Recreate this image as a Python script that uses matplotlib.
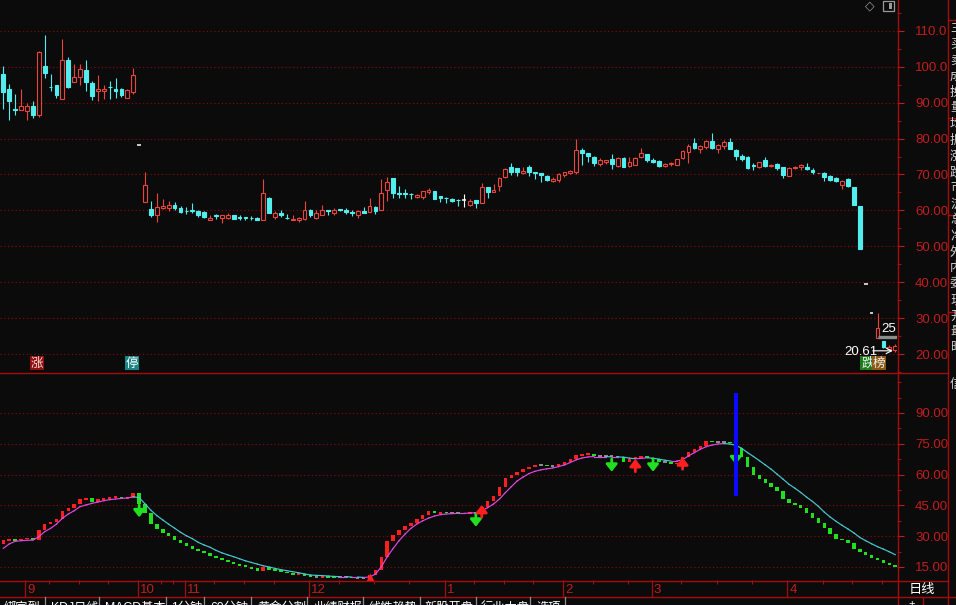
import numpy as np
import matplotlib.pyplot as plt
from matplotlib.patches import Rectangle
from matplotlib.lines import Line2D

plt.rcParams['font.family'] = ['Liberation Sans', 'Noto Sans CJK SC', 'DejaVu Sans']

# ---- daily candles ----
opens = [98.1, 93.7, 88.2, 88.0, 87.8, 89.2, 86.5, 100.3, 94.5, 95.0,
         91.1, 102.0, 95.7, 97.1, 99.2, 95.5, 93.2, 93.2, 94.5, 93.9,
         93.9, 91.2, 92.9, 78.1, 62.4, 60.4, 58.6, 60.7, 60.6, 61.6,
         60.7, 59.95, 60.1, 59.7, 59.5, 57.4, 58.6, 57.9, 57.9, 58.6,
         58.1, 58.1, 57.9, 57.9, 57.2, 63.5, 58.1, 59.3, 57.9, 57.2,
         57.2, 57.5, 60.2, 57.9, 58.8, 60.1, 59.2, 60.4, 60.2, 59.5,
         58.6, 59.7, 59.5, 60.9, 60.2, 65.6, 69.0, 64.8, 64.8, 64.6,
         63.7, 63.8, 65.0, 65.3, 63.9, 63.5, 63.2, 62.9, 62.9, 61.5,
         62.9, 62.1, 66.4, 65.2, 66.9, 69.2, 72.0, 71.7, 70.4, 72.0,
         70.6, 70.4, 69.6, 68.2, 68.5, 69.9, 70.4, 70.6, 76.8, 75.9,
         75.0, 72.9, 73.6, 74.3, 72.4, 74.7, 72.4, 72.7, 75.0, 75.7,
         74.1, 73.8, 72.4, 73.0, 72.7, 74.7, 76.3, 78.9, 77.2, 77.7,
         79.3, 77.0, 77.8, 79.1, 76.8, 75.2, 75.0, 72.6, 72.0, 74.1,
         72.4, 72.9, 72.0, 69.6, 71.8, 72.2, 72.2, 71.3, 70.4, 70.4,
         69.6, 69.0, 67.1, 68.7, 66.4, 61.3, 39.4, 31.3, 24.6, 23.7,
         21.4, 21.2]
highs = [100.1, 95.3, 92.3, 93.7, 89.8, 90.6, 104.3, 108.9, 98.1, 95.0,
         107.7, 102.7, 100.9, 100.9, 102.0, 96.1, 97.8, 95.0, 96.0, 97.0,
         94.2, 93.7, 99.7, 78.1, 70.6, 62.7, 64.8, 63.2, 62.5, 62.3,
         61.2, 60.9, 62.1, 60.1, 59.8, 58.6, 59.0, 58.8, 59.3, 58.8,
         58.6, 58.3, 58.4, 58.1, 68.7, 63.8, 59.8, 60.0, 59.0, 58.6,
         58.1, 62.5, 60.4, 60.0, 61.5, 60.2, 60.7, 60.4, 60.7, 60.2,
         60.1, 60.9, 63.5, 61.2, 68.7, 69.2, 69.0, 66.9, 66.0, 64.8,
         64.6, 65.5, 66.2, 65.5, 64.1, 63.7, 63.5, 63.2, 64.6, 63.2,
         62.9, 67.6, 66.6, 67.3, 69.2, 71.7, 73.3, 71.7, 72.2, 72.6,
         70.7, 70.4, 69.8, 69.2, 70.4, 70.7, 71.3, 79.8, 77.5, 75.9,
         75.2, 74.5, 74.1, 75.7, 75.0, 75.0, 74.9, 74.9, 77.5, 75.8,
         74.5, 74.1, 73.1, 73.5, 74.3, 76.8, 78.4, 80.1, 78.1, 79.5,
         81.5, 78.4, 79.5, 80.3, 77.0, 75.8, 75.2, 73.3, 73.5, 75.0,
         72.9, 73.1, 72.2, 72.0, 72.4, 72.9, 73.1, 71.8, 70.5, 70.7,
         69.9, 69.4, 68.4, 69.0, 66.4, 61.3, 39.4, 31.3, 31.3, 23.7,
         22.6, 22.8]
lows = [88.1, 85.2, 86.7, 87.9, 85.2, 85.8, 86.1, 96.9, 93.2, 91.2,
        90.9, 94.1, 95.7, 95.0, 93.2, 90.7, 90.4, 91.1, 91.1, 91.2,
        91.6, 91.2, 92.5, 78.1, 62.4, 58.1, 56.7, 60.4, 59.7, 60.0,
        59.2, 59.0, 59.2, 58.3, 57.9, 57.4, 57.5, 56.5, 57.5, 57.5,
        57.2, 57.2, 57.4, 57.2, 57.2, 59.3, 57.5, 58.1, 57.6, 57.2,
        56.7, 57.2, 58.1, 57.5, 58.8, 58.6, 58.8, 59.7, 59.0, 58.4,
        57.9, 59.2, 59.5, 59.0, 60.2, 62.7, 63.5, 63.5, 63.5, 63.2,
        63.5, 63.2, 64.6, 63.2, 62.4, 62.1, 62.3, 61.3, 60.9, 61.2,
        60.7, 62.1, 63.5, 65.2, 65.5, 69.0, 69.8, 69.5, 70.1, 69.6,
        68.7, 68.0, 68.3, 68.0, 67.8, 69.2, 70.1, 70.1, 72.7, 73.5,
        72.4, 72.4, 72.9, 71.5, 72.0, 72.1, 72.2, 72.7, 74.7, 73.4,
        73.1, 72.0, 72.1, 72.4, 72.6, 74.3, 73.2, 77.0, 75.9, 77.2,
        77.0, 76.1, 77.2, 77.2, 74.1, 73.8, 71.5, 71.3, 71.8, 72.1,
        72.1, 71.3, 69.0, 69.5, 71.5, 71.2, 71.2, 70.1, 70.3, 68.3,
        68.1, 67.8, 66.0, 66.4, 61.5, 49.3, 39.4, 31.3, 24.6, 21.8,
        21.2, 20.6]
closes = [92.9, 90.5, 88.0, 89.0, 89.2, 86.7, 104.1, 98.4, 94.3, 92.0,
          102.0, 94.4, 97.2, 99.5, 95.7, 91.8, 93.9, 93.9, 94.3, 93.2,
          92.0, 93.4, 97.8, 78.1, 67.1, 58.8, 60.9, 61.3, 61.5, 60.6,
          59.5, 59.8, 59.7, 58.6, 58.3, 57.9, 58.5, 58.7, 58.8, 57.6,
          58.0, 58.0, 57.8, 57.4, 64.8, 59.3, 59.2, 58.6, 57.8, 57.6,
          57.8, 60.1, 58.6, 59.2, 60.2, 59.8, 60.2, 60.1, 59.5, 59.4,
          59.8, 59.2, 61.2, 59.8, 64.8, 67.8, 64.8, 64.6, 64.6, 64.5,
          64.3, 65.3, 65.8, 63.2, 63.5, 63.4, 62.6, 62.8, 62.9, 62.7,
          62.1, 66.4, 65.0, 65.8, 69.0, 71.5, 70.7, 70.6, 71.0, 70.7,
          70.3, 69.9, 68.5, 68.7, 70.1, 70.6, 71.0, 76.8, 76.1, 75.2,
          73.2, 74.1, 74.1, 72.9, 74.5, 72.1, 73.4, 74.7, 76.1, 74.1,
          73.6, 72.4, 72.9, 73.1, 74.3, 76.5, 78.0, 77.5, 77.9, 79.3,
          77.3, 78.1, 79.1, 77.2, 75.2, 74.3, 71.8, 72.5, 73.4, 72.4,
          72.7, 71.8, 69.8, 71.8, 72.1, 72.7, 71.5, 70.6, 70.5, 69.4,
          68.4, 68.1, 68.3, 66.7, 61.5, 49.3, 39.4, 31.3, 27.2, 22.1,
          22.1, 22.3]

price_ticks = [20, 30, 40, 50, 60, 70, 80, 90, 100, 110]

# ---- lower indicator panel ----
kdj_start = 26.2
kdj = [28.1, 28.5, 28.0, 28.8, 29.0, 28.0, 33.0, 35.9, 37.1, 38.2,
       42.4, 43.6, 45.5, 48.0, 48.5, 46.8, 48.0, 48.5, 49.0, 49.3,
       48.3, 48.7, 50.9, 45.7, 41.1, 35.9, 33.3, 31.7, 30.1, 28.1,
       26.5, 25.2, 23.8, 22.8, 21.7, 20.4, 19.6, 18.4, 17.6, 16.5,
       15.8, 15.0, 14.4, 13.2, 14.9, 13.5, 13.2, 12.7, 11.9, 11.4,
       11.6, 11.0, 10.3, 10.2, 10.4, 10.2, 10.0, 10.0, 10.1, 9.6,
       9.7, 9.6, 10.9, 13.5, 20.0, 27.7, 30.6, 33.0, 35.1, 36.6,
       38.2, 40.3, 42.3, 41.2, 41.6, 41.4, 41.4, 41.0, 41.1, 41.4,
       41.2, 44.4, 47.3, 49.6, 54.1, 58.2, 59.8, 61.1, 62.5, 63.5,
       64.5, 64.6, 64.2, 64.3, 64.7, 66.1, 67.8, 69.4, 69.9, 70.1,
       69.3, 69.2, 69.1, 69.0, 68.4, 66.3, 67.4, 68.4, 68.7, 68.3,
       67.4, 66.0, 66.1, 65.2, 65.6, 68.4, 71.2, 72.5, 74.1, 76.4,
       75.9, 76.0, 76.1, 75.2, 72.8, 68.4, 63.7, 59.7, 57.8, 55.8,
       53.9, 51.8, 47.9, 46.4, 45.3, 43.7, 41.5, 38.8, 36.2, 33.9,
       31.2, 28.5, 28.3, 26.7, 23.8, 22.2, 20.6, 19.3, 18.2, 17.1,
       15.8, 14.9]
kdj_ma = [24.1, 26.2, 27.5, 27.8, 28.0, 28.1, 29.7, 32.2, 33.8, 35.9,
          38.7, 40.8, 42.4, 44.4, 45.2, 46.0, 46.6, 47.3, 47.8, 48.1,
          48.4, 48.6, 49.2, 48.8, 45.7, 42.6, 40.0, 37.9, 35.8, 33.9,
          31.9, 30.2, 28.8, 27.0, 25.7, 24.6, 23.1, 21.9, 20.9, 20.0,
          19.0, 18.0, 17.2, 16.4, 15.6, 15.0, 14.3, 13.7, 13.2, 12.7,
          12.2, 11.6, 11.1, 10.9, 10.8, 10.6, 10.4, 10.3, 10.3, 10.1,
          10.1, 9.9, 10.1, 11.5, 15.1, 20.0, 24.0, 27.8, 31.0, 33.8,
          35.9, 37.5, 38.8, 39.8, 40.5, 40.8, 41.0, 41.1, 41.1, 41.3,
          41.4, 42.4, 43.9, 45.7, 48.1, 51.2, 54.1, 56.9, 58.8, 60.5,
          61.6, 62.3, 62.8, 63.2, 63.9, 64.7, 65.9, 67.2, 68.1, 68.6,
          68.8, 68.8, 68.8, 68.6, 68.6, 68.5, 68.0, 67.7, 67.9, 68.2,
          68.0, 67.5, 67.0, 66.6, 66.6, 67.2, 69.1, 70.7, 72.3, 73.6,
          74.4, 74.9, 75.1, 74.9, 74.3, 72.8, 70.7, 68.8, 66.8, 64.7,
          62.6, 60.2, 57.8, 55.3, 53.4, 51.3, 49.0, 46.9, 44.5, 41.7,
          39.3, 37.2, 35.3, 33.5, 31.6, 29.4, 27.8, 26.3, 24.9, 23.7,
          22.4, 21.0]
ind_ticks = [15, 30, 45, 60, 75, 90]

sell_idx = [23, 80, 103, 110, 124]
sell_from = [45.2, 40.8, 67.6, 67.6, 68.5]
sell_to = [39.2, 34.6, 61.4, 61.4, 65.0]
buy_idx = [81, 107, 115]
buy_from = [39.2, 61.4, 62.6]
buy_to = [45.2, 67.6, 68.4]
blue_idx, blue_lo, blue_hi = 124, 49.6, 99.7

month_labels = ['9', '10', '11', '12', '1', '2', '3', '4']
month_start = [4, 23, 31, 52, 75, 95, 110, 133]
week_ticks = [8, 13, 18, 27, 29, 36, 41, 46, 57, 63, 69, 80, 85, 90, 100, 106,
              115, 121, 127, 139, 144, 149]

tabs = ['绑定到', 'KDJ日线', 'MACD基本', '1分钟', '60分钟', '黄金分割', '业绩财报',
        '线性趋势', '新股开盘', '行业大盘', '选项']
tab_x = [4, 51, 105, 171, 210, 257, 313, 368, 424, 481, 536]
tab_sep = [45, 99, 166, 204, 251, 307, 363, 420, 476, 530, 565]

# ---- styling ----
W, H = 956, 605
BG = '#0b0b0b'
FRAME = '#a50d0d'
GRID = '#7a0a0a'
LABEL = '#c21d1d'
UP = '#e8453f'
DOWN = '#52eeee'
BAR_UP = '#ff1f1f'
BAR_DN = '#20e020'
MAG = '#e048e0'
CYAN = '#48c8d0'
CJK = ['Noto Sans CJK SC', 'DejaVu Sans']
MIX = ['Liberation Sans', 'Noto Sans CJK SC']


def fx(px):
    return px / W


def fy(py):
    return 1 - py / H


fig = plt.figure(figsize=(W / 100, H / 100), dpi=100, facecolor=BG)
XL = (-0.56, 151.3)

ax1 = fig.add_axes([0, fy(372), fx(897), 372 / H])
ax2 = fig.add_axes([0, fy(580), fx(897), (580 - 373) / H])
for ax in (ax1, ax2):
    ax.set_facecolor(BG)
    ax.set_xlim(*XL)
    for s in ax.spines.values():
        s.set_visible(False)
    ax.set_xticks([])
    ax.yaxis.tick_right()
ax1.set_ylim(15.54, 118.59)
ax2.set_ylim(8.66, 109.48)

# price / indicator axes
ax1.set_yticks(price_ticks)
ax1.set_yticklabels([f'{v:.1f}' if v >= 100 else f'{v:.2f}' for v in price_ticks])
ax1.set_yticks(np.arange(15, 116, 5), minor=True)
ax2.set_yticks(ind_ticks)
ax2.set_yticklabels([f'{v:.2f}' for v in ind_ticks])
ax2.set_yticks(np.arange(15, 106, 7.5), minor=True)
for ax in (ax1, ax2):
    ax.tick_params(axis='y', which='major', colors=LABEL, length=5, width=0.8,
                   pad=8, labelsize=9.5)
    ax.tick_params(axis='y', which='minor', colors=FRAME, length=3, width=0.8)
for v in price_ticks:
    ax1.axhline(v, color=GRID, ls=(0, (1, 2)), lw=0.9, zorder=0)
for v in ind_ticks:
    ax2.axhline(v, color=GRID, ls=(0, (1, 2)), lw=0.9, zorder=0)

# candles
w = 0.32
for i, (o, h, l, c) in enumerate(zip(opens, highs, lows, closes)):
    col = UP if c > o else DOWN if c < o else 'white'
    top, bot = max(o, c), min(o, c)
    if h > top:
        ax1.vlines(i, top, h, color=col, lw=0.8)
    if l < bot:
        ax1.vlines(i, l, bot, color=col, lw=0.8)
    if c > o:
        ax1.add_patch(Rectangle((i - w, bot), 2 * w, top - bot, facecolor=BG,
                                edgecolor=col, lw=0.8))
    elif c < o:
        ax1.add_patch(Rectangle((i - w, bot), 2 * w, top - bot, facecolor=col,
                                edgecolor=col, lw=0.8))
    else:
        ax1.hlines(c, i - w, i + w, color=col, lw=1.1)


def tag(ax, x, y, s, fc, tc):
    ax.text(x, y, s, ha='center', va='center', fontsize=9, color=tc, family=CJK,
            bbox=dict(boxstyle='square,pad=0.06', fc=fc, ec='none'))


tag(ax1, 5.7, 17.5, '涨', '#8c1010', '#ffd8d8')
tag(ax1, 21.8, 17.5, '停', '#1a8585', '#ffffff')
tag(ax1, 146.3, 17.5, '跌', '#1d7d1d', '#f0f0f0')
tag(ax1, 148.3, 17.5, '榜', '#8a5a12', '#f0f0f0')

ax1.hlines(24.7, 148.1, 151.5, color='#8c8c8c', lw=2.4)
ax1.text(148.6, 26.9, '25.20', color='white', fontsize=9.5, va='center',
         ha='left', clip_on=True)
ax1.text(142.4, 20.6, '20.61', color='white', fontsize=9.5, va='center', ha='left')
ax1.annotate('', xy=(150.6, 20.9), xytext=(147.2, 20.9),
             arrowprops=dict(arrowstyle='->', color='white', lw=0.8,
                             shrinkA=0, shrinkB=0))

# indicator bars
prev = kdj_start
for i, k in enumerate(kdj):
    d = k - prev
    col = BAR_UP if d > 0.15 else BAR_DN if d < -0.15 else '#8a8a8a'
    if abs(d) < 0.9:
        bot, hgt = (prev + k) / 2 - 0.45, 0.9
    else:
        bot, hgt = min(prev, k), abs(d)
    ax2.add_patch(Rectangle((i - 0.3, bot), 0.6, hgt, facecolor=col, edgecolor='none'))
    prev = k

for i in range(1, len(kdj_ma)):
    col = MAG if kdj_ma[i] >= kdj_ma[i - 1] else CYAN
    ax2.plot([i - 1, i], [kdj_ma[i - 1], kdj_ma[i]], color=col, lw=0.85, zorder=3)

ax2.vlines(blue_idx, blue_lo, blue_hi, color='#0a0aff', lw=3, zorder=5)

astyle = '-|>,head_length=0.42,head_width=0.33'
for i, a, b in zip(sell_idx, sell_from, sell_to):
    ax2.annotate('', xy=(i, b), xytext=(i, a), zorder=4,
                 arrowprops=dict(arrowstyle=astyle, color=BAR_DN, lw=2.0,
                                 mutation_scale=10, shrinkA=0, shrinkB=0))
for i, a, b in zip(buy_idx, buy_from, buy_to):
    ax2.annotate('', xy=(i, b), xytext=(i, a), zorder=4,
                 arrowprops=dict(arrowstyle=astyle, color=BAR_UP, lw=2.0,
                                 mutation_scale=10, shrinkA=0, shrinkB=0))
ax2.plot([62], [9.6], marker='^', ms=7, color=BAR_UP, mec='none', zorder=4)

# date band
ax3 = fig.add_axes([0, fy(597), fx(897), 17 / H])
ax3.set_facecolor(BG)
ax3.set_xlim(*XL)
ax3.set_ylim(0, 1)
ax3.axis('off')
for m, lab in zip(month_start, month_labels):
    ax3.vlines(m - 0.25, 0, 1, color=FRAME, lw=0.9)
    ax3.text(m + 0.1, 0.42, lab, color=LABEL, fontsize=9.5, va='center', ha='left')
for t in week_ticks:
    ax3.vlines(t - 0.25, 0.78, 1, color=FRAME, lw=0.8)


def hline(y, x0, x1, c=FRAME, lw=1.0):
    fig.add_artist(Line2D([fx(x0), fx(x1)], [fy(y), fy(y)], color=c, lw=lw))


def vline(x, y0, y1, c=FRAME, lw=1.0):
    fig.add_artist(Line2D([fx(x), fx(x)], [fy(y0), fy(y1)], color=c, lw=lw))


hline(372.5, 0, 948)
hline(580.5, 0, 948)
hline(597, 0, 956)
vline(898, 0, 605)
vline(948, 0, 605)
vline(923, 597, 605)
for y in (20, 118, 215, 312):
    hline(y, 948, 956)

fig.text(fx(922), fy(589), '日线', color='white', fontsize=9.5, ha='center',
         va='center', family=CJK)
fig.text(fx(912), fy(604), '+', color='white', fontsize=8, ha='center', va='center')

# tab bar (lower half is cut off by the window edge)
for s, x in zip(tabs, tab_x):
    fig.text(fx(x), fy(610.5), s, color='white', fontsize=8.8, ha='left',
             va='baseline', family=MIX)
for x in tab_sep:
    vline(x, 597, 605, c='#909090', lw=0.9)

# right info strip (mostly cut off)
strip = '主买卖成换量均振涨跌市流总净外内委现开最昨'
for k, ch in enumerate(strip):
    fig.text(fx(950), fy(28 + k * 16), ch, color='#d0d0d0', fontsize=9,
             ha='left', va='center', family=CJK)
fig.text(fx(950), fy(384), '信', color='#d0d0d0', fontsize=9, ha='left',
         va='center', family=CJK)

# top-right icons
fig.text(fx(870), fy(6), '◇', color='#9a9a9a', fontsize=9, ha='center', va='center',
         family=['DejaVu Sans'])
fig.add_artist(Rectangle((fx(883), fy(11)), 11 / W, 10 / H, transform=fig.transFigure,
                         facecolor='none', edgecolor='#9a9a9a', lw=0.9))
fig.add_artist(Rectangle((fx(889), fy(9)), 3 / W, 6 / H, transform=fig.transFigure,
                         facecolor='#9a9a9a', edgecolor='none'))

fig.savefig('out.png', dpi=100, facecolor=BG)
